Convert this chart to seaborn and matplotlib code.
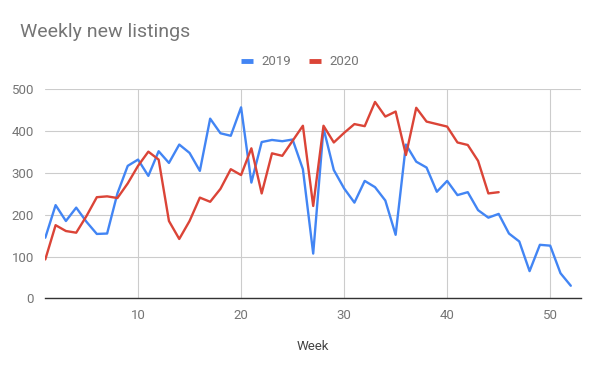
import pandas as pd
import matplotlib
matplotlib.use("Agg")
import matplotlib.pyplot as plt
import seaborn as sns
from matplotlib.lines import Line2D

# Weekly new listings
weeks_2019 = list(range(1, 53))
listings_2019 = [
    145, 223, 185, 217, 183, 154, 155, 251, 317, 332,
    293, 352, 324, 368, 348, 305, 430, 395, 389, 457,
    277, 374, 379, 376, 380, 309, 107, 407, 307, 263,
    229, 281, 266, 234, 152, 368, 327, 313, 255, 281,
    247, 254, 211, 193, 202, 155, 136, 65, 128, 126,
    60, 30,
]
weeks_2020 = list(range(1, 46))
listings_2020 = [
    93, 175, 161, 157, 197, 242, 244, 240, 275, 317,
    351, 332, 185, 142, 185, 241, 231, 262, 309, 295,
    359, 251, 347, 341, 377, 413, 221, 413, 373, 396,
    417, 412, 470, 435, 447, 343, 456, 423, 417, 411,
    373, 367, 329, 251, 254,
]
series_names = ["2019", "2020"]
colors = ["#4285F4", "#DB4437"]

df = pd.concat([
    pd.DataFrame({"Week": weeks_2019, "Listings": listings_2019, "Year": "2019"}),
    pd.DataFrame({"Week": weeks_2020, "Listings": listings_2020, "Year": "2020"}),
])

sns.set_style("white")
plt.rcParams["font.family"] = ["Roboto", "DejaVu Sans"]

fig = plt.figure(figsize=(6, 3.71), dpi=100)
ax = fig.add_axes([0.0755, 0.196, 0.893, 0.563])

sns.lineplot(data=df, x="Week", y="Listings", hue="Year",
             palette=dict(zip(series_names, colors)), linewidth=1.7,
             legend=False, ax=ax)

ax.set_xlim(1, 53)
ax.set_ylim(0, 500)
ax.set_xticks([10, 20, 30, 40, 50])
ax.set_yticks(range(0, 501, 100))
ax.grid(True, color="#cccccc", linewidth=0.8)
ax.set_axisbelow(True)
for s in ["top", "right", "left"]:
    ax.spines[s].set_visible(False)
ax.spines["bottom"].set_color("#333333")
ax.spines["bottom"].set_linewidth(1)
ax.tick_params(length=0, labelsize=9.5, colors="#757575", pad=8)

ax.set_xlabel("Week", fontsize=9.5, color="#444444", labelpad=13)
ax.set_ylabel("")

fig.text(0.033, 0.9, "Weekly new listings", fontsize=14, color="#757575",
         va="baseline")

handles = [Line2D([0], [0], color=c, linewidth=3.5, solid_capstyle="butt")
           for c in colors]
fig.legend(handles, series_names, loc="center", bbox_to_anchor=(0.5, 0.833),
           ncol=2, frameon=False, fontsize=9.5, handlelength=0.9,
           columnspacing=1.4, handletextpad=0.6, labelcolor="#757575")

fig.savefig("out.png", dpi=100)
